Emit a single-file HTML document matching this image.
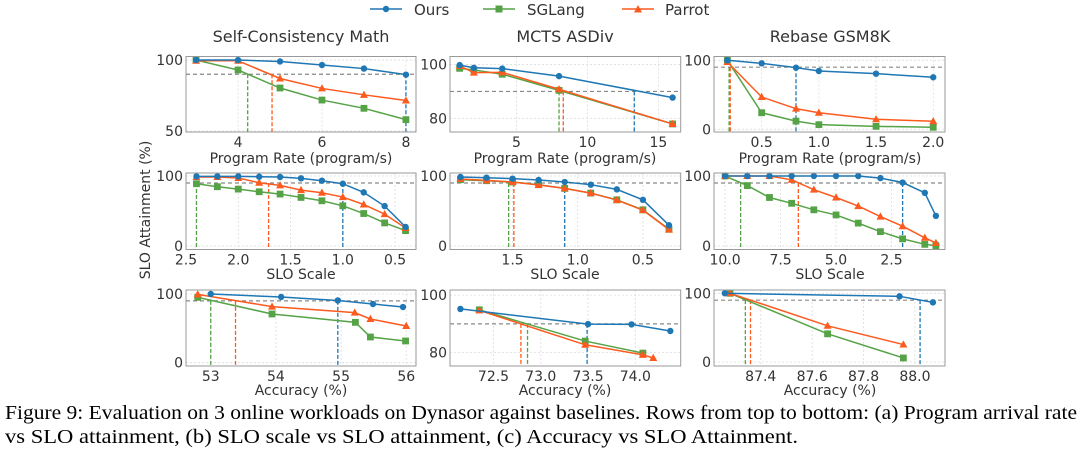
<!DOCTYPE html>
<html><head><meta charset="utf-8">
<style>
html,body{margin:0;padding:0;background:#fff;}
svg{display:block;font-family:"DejaVu Sans","Liberation Sans",sans-serif;}
</style></head>
<body>
<svg id="fig" width="1080" height="454" viewBox="0 0 1080 454" xmlns="http://www.w3.org/2000/svg">
<g>
  <g>
    <line x1="370" y1="9" x2="402" y2="9" stroke="#1f77b4" stroke-width="1.5"/>
    <circle cx="386" cy="9" r="3.2" fill="#1f77b4"/>
    <text x="414" y="15" font-size="15" fill="#333">Ours</text>
  </g>
  <g>
    <line x1="483" y1="9" x2="515" y2="9" stroke="#55a346" stroke-width="1.5"/>
    <rect x="495.5" y="5.5" width="7" height="7" fill="#55a346"/>
    <text x="527" y="15" font-size="15" fill="#333">SGLang</text>
  </g>
  <g>
    <line x1="622" y1="9" x2="654" y2="9" stroke="#fc5a1e" stroke-width="1.5"/>
    <path d="M638,5 L642,12.5 L634,12.5 Z" fill="#fc5a1e"/>
    <text x="665" y="15" font-size="15" fill="#333">Parrot</text>
  </g>
</g>
<text x="301" y="42" font-size="16" fill="#333" text-anchor="middle">Self-Consistency Math</text>
<text x="565" y="42" font-size="16" fill="#333" text-anchor="middle">MCTS ASDiv</text>
<text x="830" y="42" font-size="16" fill="#333" text-anchor="middle">Rebase GSM8K</text>
<text transform="translate(150,210) rotate(-90)" font-size="14" fill="#333" text-anchor="middle">SLO Attainment (%)</text>
<text x="301" y="163" font-size="14" fill="#333" text-anchor="middle">Program Rate (program/s)</text>
<text x="565" y="163" font-size="14" fill="#333" text-anchor="middle">Program Rate (program/s)</text>
<text x="830" y="163" font-size="14" fill="#333" text-anchor="middle">Program Rate (program/s)</text>
<text x="301" y="279" font-size="14" fill="#333" text-anchor="middle">SLO Scale</text>
<text x="565" y="279" font-size="14" fill="#333" text-anchor="middle">SLO Scale</text>
<text x="830" y="279" font-size="14" fill="#333" text-anchor="middle">SLO Scale</text>
<text x="301" y="395" font-size="14" fill="#333" text-anchor="middle">Accuracy (%)</text>
<text x="565" y="395" font-size="14" fill="#333" text-anchor="middle">Accuracy (%)</text>
<text x="830" y="395" font-size="14" fill="#333" text-anchor="middle">Accuracy (%)</text>
<g font-family="'Liberation Serif',serif" font-size="20" fill="#000">
<text x="5" y="419" textLength="1072" lengthAdjust="spacingAndGlyphs">Figure 9: Evaluation on 3 online workloads on Dynasor against baselines. Rows from top to bottom: (a) Program arrival rate</text>
<text x="5" y="443" textLength="793" lengthAdjust="spacingAndGlyphs">vs SLO attainment, (b) SLO scale vs SLO attainment, (c) Accuracy vs SLO Attainment.</text>
</g>
</svg>
<script>
// ---- data ----
// Row 1: program rate
const r1c1X = [3,4,5,6,7,8];
const r1c1Ours = [100,100,99,96.5,94,89.7];
const r1c1SGLang = [100,93,80.3,71.8,66,58];
const r1c1Parrot = [99.5,99.5,87,80,75.5,71.5];
const r1c1Cross = [8,4.23,4.81];
const r1c1XTicks = [4,6,8];
const r1c1YTicks = [50,100];

const r1c2X = [1,2,4,8,16];
const r1c2Ours = [99.8,98.8,98.5,95.7,87.7];
const r1c2SGLang = [98.6,98,96.4,90.4,77.9];
const r1c2Parrot = [99.5,97,97.1,90.8,77.9];
const r1c2Cross = [13.3,8.0,8.3];
const r1c2XTicks = [5,10,15];
const r1c2YTicks = [80,100];

const r1c3X = [0.2,0.5,0.8,1.0,1.5,2.0];
const r1c3Ours = [100,95.6,89.3,84.5,80.6,75.4];
const r1c3SGLang = [100,24,11.9,6.7,4.3,2.9];
const r1c3Parrot = [97.5,46.8,29.9,24,14.5,11.6];
const r1c3Cross = [0.8,0.215,0.225];
const r1c3XTicks = [0.5,1.0,1.5,2.0];
const r1c3YTicks = [0,100];

// Row 2: SLO scale
const r2c1X = [2.4,2.2,2.0,1.8,1.6,1.4,1.2,1.0,0.8,0.6,0.4];
const r2c1Ours = [99.5,99.5,99.5,99,98.6,96.7,93.3,89,76.6,57,27.3];
const r2c1SGLang = [89,84.7,81.3,77.5,74.2,69.4,64.6,57.4,46.4,33,22];
const r2c1Parrot = [98.6,98.6,97.1,90.4,86.6,79.9,76.1,69.9,59.3,45.5,25.8];
const r2c1Cross = [1.0,2.4,1.71];
const r2c1XTicks = [2.5,2.0,1.5,1.0,0.5];
const r2c1YTicks = [0,100];

const r2c2X = [1.9,1.7,1.5,1.3,1.1,0.9,0.7,0.5,0.3];
const r2c2Ours = [98.6,97.6,96.2,94.3,91.4,87.6,80.9,66,29.7];
const r2c2SGLang = [94.7,93.3,91.4,87.6,82.3,75.6,66,51.7,23.9];
const r2c2Parrot = [95.7,93.8,91.4,87.1,82.3,75.6,65.6,51.2,23.4];
const r2c2Cross = [1.1,1.53,1.49];
const r2c2XTicks = [1.5,1.0,0.5];
const r2c2YTicks = [0,100];

const r2c3X = [10,9,8,7,6,5,4,3,2,1,0.5];
const r2c3Ours = [100,100,100,100,100,100,100,97,90.7,76,43];
const r2c3SGLang = [100,86.3,69.3,61,51.7,44.4,32.7,20.5,10.2,2.4,0.5];
const r2c3Parrot = [100,100,100,94.6,80.5,69.3,57,42,28.3,11.7,4.4];
const r2c3Cross = [2.0,9.3,6.7];
const r2c3XTicks = [10.0,7.5,5.0,2.5];
const r2c3YTicks = [0,100];

// Row 3: accuracy
const r3c1OursX = [53.0,54.08,54.95,55.49,55.95];
const r3c1Ours = [100,95.6,90.6,85.4,81];
const r3c1SGLangX = [52.8,53.94,55.22,55.45,55.99];
const r3c1SGLang = [95.1,70.9,58.7,37.4,31.6];
const r3c1ParrotX = [52.8,53.94,55.21,55.45,56.0];
const r3c1Parrot = [99.5,81.6,72.8,63.6,53.4];
const r3c1Cross = [54.95,53.0,53.38];
const r3c1XTicks = [53,54,55,56];
const r3c1YTicks = [0,100];

const r3c2OursX = [72.15,73.5,73.96,74.37];
const r3c2Ours = [95.2,89.9,89.8,87.5];
const r3c2SGLangX = [72.35,73.47,74.08];
const r3c2SGLang = [94.9,84,79.8];
const r3c2ParrotX = [72.35,73.47,74.08,74.19];
const r3c2Parrot = [94.7,82.7,79.2,78.1];
const r3c2Cross = [73.49,72.86,72.79];
const r3c2XTicks = [72.5,73.0,73.5,74.0];
const r3c2YTicks = [80,100];

const r3c3OursX = [87.26,87.94,88.07];
const r3c3Ours = [100,95.6,86.8];
const r3c3SGLangX = [87.28,87.66,87.955];
const r3c3SGLang = [100,41,5.9];
const r3c3ParrotX = [87.28,87.66,87.955];
const r3c3Parrot = [100,52.7,25.4];
const r3c3Cross = [88.02,87.34,87.36];
const r3c3XTicks = [87.4,87.6,87.8,88.0];
const r3c3YTicks = [0,100];

const sloTarget = 90;

const C_OURS = '#1f77b4', C_SGL = '#55a346', C_PAR = '#fc5a1e';
const NS = 'http://www.w3.org/2000/svg';
const svg = document.getElementById('fig');

function mk(tag, attrs, parent) {
  const e = document.createElementNS(NS, tag);
  for (const k in attrs) e.setAttribute(k, attrs[k]);
  (parent || svg).appendChild(e);
  return e;
}

function tickFmt(v, dec) { return dec ? v.toFixed(1) : String(v); }

function panel(id, box, xDom, yDom, xTicks, yTicks, dec, series, cross) {
  const g = mk('g', {});
  
  
  const sx = v => box.x0 + (v - xDom[0]) / (xDom[1] - xDom[0]) * (box.x1 - box.x0);
  const sy = v => box.y1 - (v - yDom[0]) / (yDom[1] - yDom[0]) * (box.y1 - box.y0);
  xTicks.forEach(t => {
    const l = mk('line', {x1: sx(t), x2: sx(t), y1: box.y0, y2: box.y1, stroke: '#ddd', 'stroke-width': 0.8, 'stroke-dasharray': '2,2'}, g);
    
    
    const tx = mk('text', {x: sx(t), y: box.y1 + 15, 'font-size': 14, fill: '#333', 'text-anchor': 'middle'}, g);
    
    
    tx.textContent = tickFmt(t, dec);
  });
  yTicks.forEach(t => {
    const l = mk('line', {x1: box.x0, x2: box.x1, y1: sy(t), y2: sy(t), stroke: '#ddd', 'stroke-width': 0.8, 'stroke-dasharray': '2,2'}, g);
    
    
    const tx = mk('text', {x: box.x0 - 3, y: sy(t) + 5, 'font-size': 14, fill: '#333', 'text-anchor': 'end'}, g);
    
    
    tx.textContent = String(t);
  });
  const th = mk('line', {x1: box.x0, x2: box.x1, y1: sy(sloTarget), y2: sy(sloTarget), stroke: '#888', 'stroke-width': 1.2, 'stroke-dasharray': '4,3'}, g);
  
  
  const cc = [C_OURS, C_SGL, C_PAR];
  cross.forEach((c, i) => {
    const v = mk('line', {x1: sx(c), x2: sx(c), y1: sy(sloTarget), y2: box.y1, stroke: cc[i], 'stroke-width': 1.3, 'stroke-dasharray': '4,2'}, g);
    
    
  });
  series.forEach(s => {
    const pts = s.xs.map((x, i) => sx(x) + ',' + sy(s.ys[i])).join(' ');
    const pl = mk('polyline', {points: pts, fill: 'none', stroke: s.color, 'stroke-width': 1.5}, g);
    
    
    s.xs.forEach((x, i) => {
      const px = sx(x), py = sy(s.ys[i]);
      let m;
      if (s.marker === 'o') m = mk('circle', {cx: px, cy: py, r: 3.2, fill: s.color}, g);
      else if (s.marker === 's') m = mk('rect', {x: px - 3.4, y: py - 3.4, width: 6.8, height: 6.8, fill: s.color}, g);
      else m = mk('path', {d: `M${px},${py - 4.2} L${px + 4},${py + 3} L${px - 4},${py + 3} Z`, fill: s.color}, g);
      
      
    });
  });
  const fr = mk('rect', {x: box.x0, y: box.y0, width: box.x1 - box.x0, height: box.y1 - box.y0, fill: 'none', stroke: '#999', 'stroke-width': 1}, g);
  
  
}

function S(xs, o, sxs, sg, pxs, pa) {
  return [
    {name: 'sglang', color: C_SGL, marker: 's', xs: sxs, ys: sg},
    {name: 'parrot', color: C_PAR, marker: '^', xs: pxs, ys: pa},
    {name: 'ours', color: C_OURS, marker: 'o', xs: xs, ys: o}
  ];
}

const cols = [[186, 416], [450, 680.7], [714, 945]];
const rows = [[56.5, 132], [173, 249.5], [290, 366]];
const B = (r, c) => ({x0: cols[c][0], x1: cols[c][1], y0: rows[r][0], y1: rows[r][1]});

panel('r1c1', B(0,0), [2.76, 8.24], [49.3, 102.5], r1c1XTicks, r1c1YTicks, false, S(r1c1X, r1c1Ours, r1c1X, r1c1SGLang, r1c1X, r1c1Parrot), r1c1Cross);
panel('r1c2', B(0,1), [0.32, 16.57], [74.9, 103], r1c2XTicks, r1c2YTicks, false, S(r1c2X, r1c2Ours, r1c2X, r1c2SGLang, r1c2X, r1c2Parrot), r1c2Cross);
panel('r1c3', B(0,2), [0.083, 2.103], [-3.9, 105.5], r1c3XTicks, r1c3YTicks, true, S(r1c3X, r1c3Ours, r1c3X, r1c3SGLang, r1c3X, r1c3Parrot), r1c3Cross);
panel('r2c1', B(1,0), [2.5, 0.3], [-5, 104.3], r2c1XTicks, r2c1YTicks, true, S(r2c1X, r2c1Ours, r2c1X, r2c1SGLang, r2c1X, r2c1Parrot), r2c1Cross);
panel('r2c2', B(1,1), [1.98, 0.21], [-5, 104.3], r2c2XTicks, r2c2YTicks, true, S(r2c2X, r2c2Ours, r2c2X, r2c2SGLang, r2c2X, r2c2Parrot), r2c2Cross);
panel('r2c3', B(1,2), [10.5, 0.09], [-5, 104.3], r2c3XTicks, r2c3YTicks, true, S(r2c3X, r2c3Ours, r2c3X, r2c3SGLang, r2c3X, r2c3Parrot), r2c3Cross);
panel('r3c1', B(2,0), [52.62, 56.15], [-4.8, 105.8], r3c1XTicks, r3c1YTicks, false, S(r3c1OursX, r3c1Ours, r3c1SGLangX, r3c1SGLang, r3c1ParrotX, r3c1Parrot), r3c1Cross);
panel('r3c2', B(2,1), [72.04, 74.48], [75.3, 101.8], r3c2XTicks, r3c2YTicks, true, S(r3c2OursX, r3c2Ours, r3c2SGLangX, r3c2SGLang, r3c2ParrotX, r3c2Parrot), r3c2Cross);
panel('r3c3', B(2,2), [87.218, 88.117], [-5.8, 104.8], r3c3XTicks, r3c3YTicks, true, S(r3c3OursX, r3c3Ours, r3c3SGLangX, r3c3SGLang, r3c3ParrotX, r3c3Parrot), r3c3Cross);
</script>
</body></html>
